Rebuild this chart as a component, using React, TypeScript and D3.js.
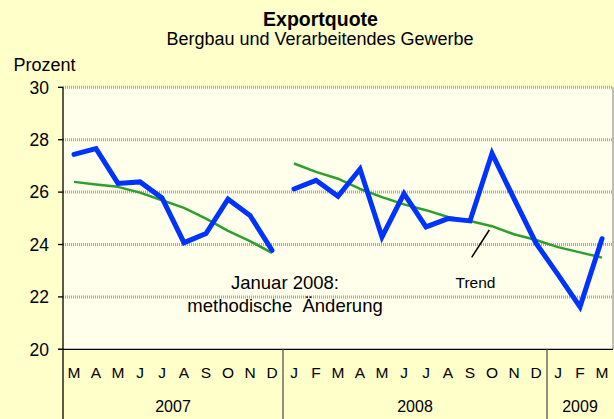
import React from "react";
import * as d3 from "d3";

const monthLabels = ["M","A","M","J","J","A","S","O","N","D","J","F","M","A","M","J","J","A","S","O","N","D","J","F","M"];
const yearGroups = [
  { label: "2007", start: 0, count: 10 },
  { label: "2008", start: 10, count: 12 },
  { label: "2009", start: 22, count: 3 },
];
const exportValues = [27.44, 27.66, 26.33, 26.39, 25.78, 24.07, 24.42, 25.73, 25.11, 23.78,
  26.12, 26.45, 25.84, 26.88, 24.29, 25.94, 24.67, 24.99, 24.9, 27.48, 25.75, 24.05, 22.85, 21.62, 24.22];
const trendValues = [26.39, 26.29, 26.2, 25.98, 25.69, 25.4, 24.99, 24.52, 24.13, 23.68,
  27.09, 26.77, 26.51, 26.12, 25.81, 25.53, 25.31, 25.05, 24.9, 24.7, 24.39, 24.17, 23.9, 23.7, 23.5];
const breakIndex = 10; // methodische Änderung ab Januar 2008
const yTicks = [20, 22, 24, 26, 28, 30];

const W = 614, H = 419;
const L = 63, R = 613, T = 87.3, B = 349.3;
const FONT = "'Liberation Sans', Arial, Helvetica, sans-serif";

export default function App() {
  const idx = monthLabels.map((_, i) => i);
  const x = d3.scaleBand<number>().domain(idx).range([L, R]).padding(0);
  const cx = (i: number) => (x(i) as number) + x.bandwidth() / 2;
  const y = d3.scaleLinear().domain([20, 30]).range([B, T]);

  const mk = (vals: number[], from: number, to: number) =>
    d3.line<number>().x(i => cx(i)).y(i => y(vals[i]))(idx.slice(from, to)) || "";

  const segs: [number, number][] = [[0, breakIndex], [breakIndex, monthLabels.length]];

  return (
    <svg width={W} height={H} style={{ position: "absolute", left: 0, top: 0 }} fontFamily={FONT}>
      <rect x={0} y={0} width={W} height={H} fill="#FFFFC9" />
      <rect x={L} y={T} width={R - L} height={B - T} fill="#FFFFEB" />

      {/* gridlines */}
      {yTicks.filter(t => t > 20).map(t => (
        <line key={t} x1={L} x2={R} y1={y(t)} y2={y(t)} stroke="#a8a8a8" strokeWidth={3} strokeDasharray="1 1" />
      ))}

      {/* right border */}
      <line x1={R} x2={R} y1={T} y2={B} stroke="#808080" strokeWidth={1} />

      {/* series */}
      {segs.map(([a, b], k) => (
        <path key={"t" + k} d={mk(trendValues, a, b)} fill="none" stroke="#2E9E2E" strokeWidth={2.5} strokeLinejoin="round" />
      ))}
      {segs.map(([a, b], k) => (
        <path key={"e" + k} d={mk(exportValues, a, b)} fill="none" stroke="#0033FF" strokeWidth={5} strokeLinejoin="miter" strokeLinecap="round" />
      ))}

      {/* axes */}
      <line x1={L} x2={L} y1={T} y2={H} stroke="#000" strokeWidth={1.3} />
      <line x1={58} x2={R} y1={B} y2={B} stroke="#000" strokeWidth={1.3} />
      {yTicks.map(t => (
        <g key={t}>
          <line x1={58} x2={L} y1={y(t)} y2={y(t)} stroke="#000" strokeWidth={1.3} />
          <text x={49} y={y(t)} dy="0.36em" textAnchor="end" fontSize={17.5} fill="#000">{t}</text>
        </g>
      ))}

      {/* month labels */}
      {monthLabels.map((m, i) => (
        <text key={i} x={cx(i)} y={378.3} textAnchor="middle" fontSize={15.5} fill="#000">{m}</text>
      ))}
      {/* year separators and labels */}
      {yearGroups.slice(1).map(g => (
        <line key={g.label} x1={x(g.start) as number} x2={x(g.start) as number} y1={B} y2={H} stroke="#555" strokeWidth={1.3} />
      ))}
      {yearGroups.map(g => {
        const x0 = x(g.start) as number;
        const x1 = (x(g.start + g.count - 1) as number) + x.bandwidth();
        return (
          <text key={g.label} x={(x0 + x1) / 2} y={412.3} textAnchor="middle" fontSize={16} fill="#000">{g.label}</text>
        );
      })}

      {/* titles */}
      <text x={320.5} y={26} textAnchor="middle" fontSize={19.5} fontWeight="bold" fill="#000">Exportquote</text>
      <text x={320} y={45} textAnchor="middle" fontSize={18} fill="#000">Bergbau und Verarbeitendes Gewerbe</text>
      <text x={44.5} y={70.5} textAnchor="middle" fontSize={18} fill="#000">Prozent</text>

      {/* annotations */}
      <text x={285} y={289} textAnchor="middle" fontSize={18.5} fill="#000">Januar 2008:</text>
      <text x={285} y={311.7} textAnchor="middle" fontSize={18.5} fill="#000" style={{ whiteSpace: "pre" }}>{"methodische  Änderung"}</text>
      <line x1={471.7} y1={257.3} x2={489.3} y2={230} stroke="#000" strokeWidth={1.5} />
      <text x={475.5} y={287.7} textAnchor="middle" fontSize={15.5} fill="#000">Trend</text>
    </svg>
  );
}
